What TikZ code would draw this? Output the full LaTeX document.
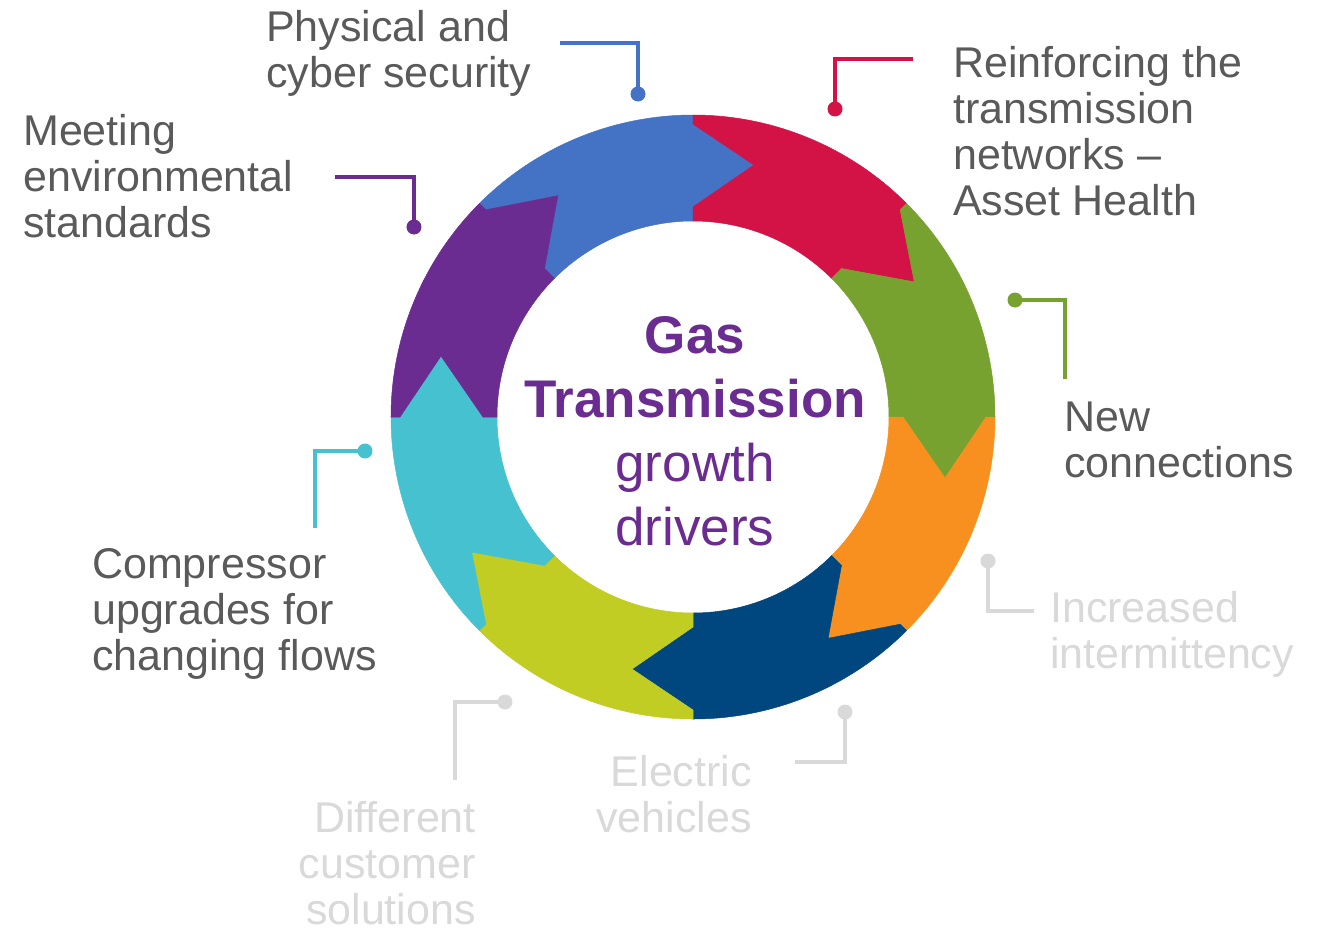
\documentclass[tikz,border=0pt]{standalone}
\usepackage{fontspec}
\setmainfont{Liberation Sans}
\definecolor{cblue}{HTML}{4472C4}
\definecolor{cred}{HTML}{D31245}
\definecolor{cgreen}{HTML}{78A22F}
\definecolor{corange}{HTML}{F7901E}
\definecolor{cdblue}{HTML}{00467F}
\definecolor{cyg}{HTML}{C1CD23}
\definecolor{ccyan}{HTML}{46C1D0}
\definecolor{cpurple}{HTML}{6A2C90}
\definecolor{ctext}{HTML}{5A5A5A}
\definecolor{clight}{HTML}{D9D9D9}
\tikzset{
  lbl/.style={inner sep=0pt, text=ctext, font=\fontsize{43}{46}\selectfont},
  lbllight/.style={lbl, text=clight},
  conn/.style={line width=4pt},
  dotnode/.style={circle, inner sep=0pt, minimum size=15pt},
}
\begin{document}
\begin{tikzpicture}[x=1pt,y=1pt]
\useasboundingbox (-693,417) rectangle (628,-513);
% ring segments
\foreach \a/\col in {135/cblue, 90/cred, 45/cgreen, 0/corange, -45/cdblue, -90/cyg, -135/ccyan, 180/cpurple} {
  \pgfmathsetmacro\b{\a-45}
  \pgfmathsetmacro\bt{\b-13.6}
  \pgfmathsetmacro\at{\a-13.6}
  \fill[\col, draw=\col, line width=0.5pt, line join=miter]
    (\a:302pt) arc[start angle=\a, end angle=\b, radius=302pt]
    -- (\b:293pt) -- (\bt:259.3pt) -- (\b:210pt) -- (\b:196pt)
    arc[start angle=\b, end angle=\a, radius=196pt]
    -- (\a:210pt) -- (\at:259.3pt) -- (\a:293pt) -- cycle;
}
% centre title (anchor base = baseline of last line)
\node[inner sep=0pt, anchor=base, align=center, text=cpurple,
      font=\fontsize{53}{64}\selectfont] (title) at (2,-128)
  {\bfseries Gas\\\bfseries Transmission\\growth\\drivers};
% labels (anchor base = baseline of last line)
\node[lbl, anchor=base west, align=left] (phys) at (-427,330) {Physical and\\cyber security};
\node[lbl, anchor=base west, align=left] (reinf) at (260,202) {Reinforcing the\\transmission\\networks –\\Asset Health};
\node[lbl, anchor=base west, align=left] (meet) at (-670,180) {Meeting\\environmental\\standards};
\node[lbl, anchor=base west, align=left] (newc) at (371,-60) {New\\connections};
\node[lbllight, anchor=base west, align=left] (incr) at (357,-251) {Increased\\intermittency};
\node[lbllight, anchor=base east, align=right] (elec) at (59,-415) {Electric\\vehicles};
\node[lbllight, anchor=base east, align=right] (diff) at (-217,-507) {Different\\customer\\solutions};
\node[lbl, anchor=base west, align=left] (comp) at (-601,-253) {Compressor\\upgrades for\\changing flows};
% connectors
\coordinate (bS) at (-133,374);
\node[dotnode, fill=cblue] (bD) at (-55,323) {};
\draw[conn, cblue] (bS) -| (bD.center);
\node[dotnode, fill=cred] (rD) at (142,308) {};
\coordinate (rE) at (220,358);
\draw[conn, cred] (rD.center) |- (rE);
\coordinate (pS) at (-358,240);
\node[dotnode, fill=cpurple] (pD) at (-279,190) {};
\draw[conn, cpurple] (pS) -| (pD.center);
\node[dotnode, fill=cgreen] (gD) at (322,117) {};
\coordinate (gE) at (372,38);
\draw[conn, cgreen] (gD.center) -| (gE);
\node[dotnode, fill=clight] (iD) at (295,-144) {};
\coordinate (iE) at (341,-194);
\draw[conn, clight] (iD.center) |- (iE);
\node[dotnode, fill=ccyan] (cD) at (-328,-34) {};
\coordinate (cE) at (-378,-111);
\draw[conn, ccyan] (cD.center) -| (cE);
\node[dotnode, fill=clight] (dD) at (-188,-285) {};
\coordinate (dE) at (-238,-363);
\draw[conn, clight] (dD.center) -| (dE);
\node[dotnode, fill=clight] (eD) at (152,-295) {};
\coordinate (eE) at (102,-345);
\draw[conn, clight] (eD.center) |- (eE);
\end{tikzpicture}
\end{document}
